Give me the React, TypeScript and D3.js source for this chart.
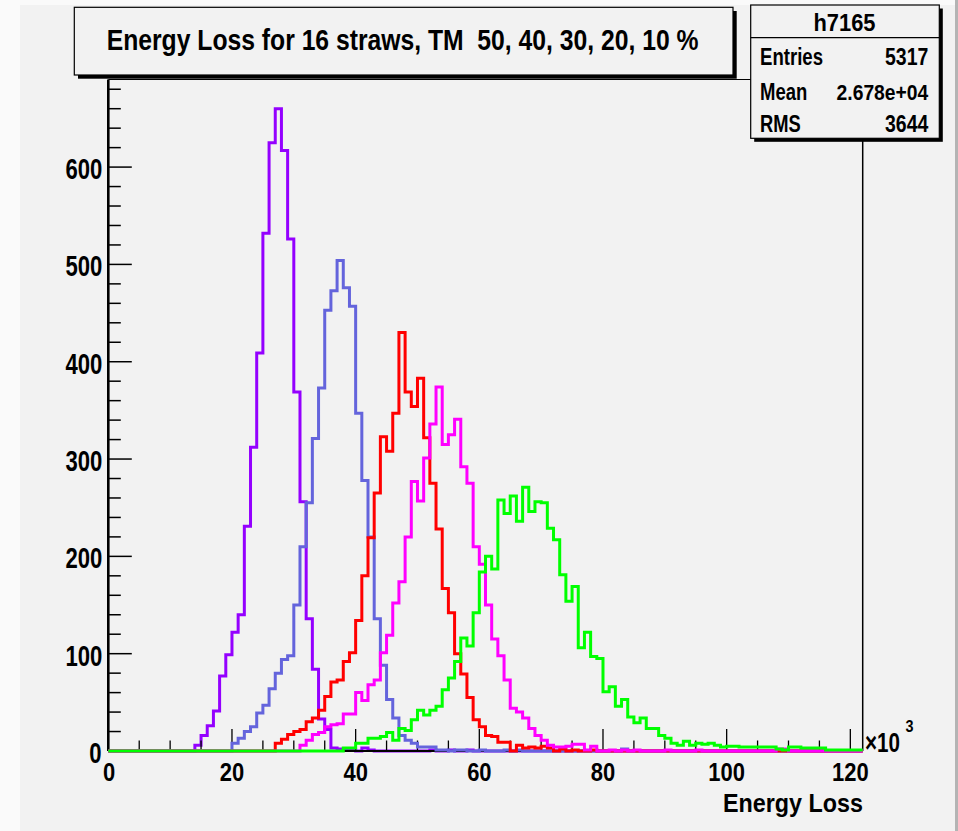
import React, { useLayoutEffect, useRef, useState } from 'react';
import * as d3 from 'd3';

// ---- data (counts per 1×10³ bin, starting at the given bin index) ----
const BIN_COUNT = 122;
const X_MAX = 122;
const Y_MAX = 690;

const purpleStart = 14;
const purpleCounts = [6, 16, 26, 41, 77, 99, 122, 140, 231, 312, 409, 532, 625, 660, 617, 526, 369, 256, 136, 84, 33, 22, 3, 2, 2, 1, 0, 3, 1, 0, 0, 0, 0, 0, 0, 0, 0, 0, 1, 0, 0, 1, 0, 0, 1];

const blueStart = 20;
const blueCounts = [8, 13, 20, 25, 39, 47, 64, 80, 94, 98, 150, 210, 255, 321, 373, 453, 473, 504, 476, 457, 347, 278, 220, 136, 88, 53, 34, 16, 11, 8, 4, 4, 4, 1, 1, 0, 1, 1, 0, 0, 1, 0, 0, 0, 1, 0, 1, 0, 0, 0, 0, 0, 0, 0, 0, 0, 0, 0, 0, 0, 0, 0, 0, 2];

const redStart = 27;
const redCounts = [8, 12, 17, 20, 22, 30, 34, 42, 56, 71, 73, 92, 101, 134, 180, 219, 265, 323, 308, 347, 430, 369, 354, 383, 322, 275, 228, 167, 142, 100, 79, 55, 32, 25, 16, 15, 9, 9, 0, 6, 3, 4, 3, 5, 3, 0, 2, 0, 1, 0, 0, 1];

const magentaStart = 31;
const magentaCounts = [6, 11, 17, 19, 25, 27, 28, 38, 38, 60, 52, 68, 73, 101, 119, 152, 174, 220, 277, 257, 301, 336, 374, 315, 325, 341, 292, 275, 210, 192, 150, 115, 98, 73, 44, 40, 34, 23, 16, 11, 6, 4, 4, 5, 7, 7, 1, 5, 0, 0, 1, 0, 1, 0, 1, 0, 0, 0, 0, 1, 0, 0, 0, 0, 1, 0, 0, 0, 0, 0, 0, 0, 0, 0, 0, 0, 0, 2, 2];

const greenStart = 38;
const greenCounts = [3, 3, 8, 8, 13, 13, 15, 19, 11, 23, 21, 32, 42, 37, 42, 46, 63, 75, 92, 116, 108, 142, 184, 200, 187, 258, 244, 262, 236, 271, 246, 256, 255, 229, 217, 181, 154, 169, 106, 122, 97, 95, 61, 66, 46, 53, 35, 29, 34, 23, 23, 16, 13, 8, 6, 10, 6, 8, 7, 8, 6, 4, 5, 5, 4, 4, 4, 4, 4, 4, 2, 1, 4, 4, 3, 3, 3, 3, 1, 1, 1, 1, 1, 1];

const xMajorTicks = [0, 20, 40, 60, 80, 100, 120];
const xTickLabels = ['0', '20', '40', '60', '80', '100', '120'];
const yMajorTicks = [0, 100, 200, 300, 400, 500, 600];
const yTickLabels = ['0', '100', '200', '300', '400', '500', '600'];
const X_MINOR_STEP = 5;
const Y_MINOR_STEP = 20;

const titleText = 'Energy Loss for 16 straws, TM  50, 40, 30, 20, 10 %';
const xAxisTitle = 'Energy Loss';
const statsName = 'h7165';
const statsLabels = ['Entries', 'Mean', 'RMS'];
const statsValues = ['5317', '2.678e+04', '3644'];

// ---- layout ----
const W = 958;
const H = 831;
const plot = { left: 108.3, right: 862.7, top: 79.5, bottom: 751 };
const FONT = "'Liberation Sans', Arial, Helvetica, sans-serif";
const BG = '#f2f2f2';

const x = d3.scaleLinear().domain([0, X_MAX]).range([plot.left, plot.right]);
const y = d3.scaleLinear().domain([0, Y_MAX]).range([plot.bottom, plot.top]);

function fullBins(start: number, counts: number[]): number[] {
  const a = new Array(BIN_COUNT).fill(0);
  counts.forEach((c, i) => {
    if (start + i < BIN_COUNT) a[start + i] = c;
  });
  return a;
}

function stepPath(arr: number[]): string {
  const pts: [number, number][] = arr.map((c, i) => [i, c]);
  pts.push([BIN_COUNT, arr[BIN_COUNT - 1]]);
  return (
    d3
      .line<[number, number]>()
      .x((d) => x(d[0]))
      .y((d) => y(d[1]))
      .curve(d3.curveStepAfter)(pts) || ''
  );
}

const series = [
  { key: 'purple', color: '#9400ff', data: fullBins(purpleStart, purpleCounts) },
  { key: 'blue', color: '#6464dc', data: fullBins(blueStart, blueCounts) },
  { key: 'red', color: '#ff0000', data: fullBins(redStart, redCounts) },
  { key: 'magenta', color: '#ff00ff', data: fullBins(magentaStart, magentaCounts) },
  { key: 'green', color: '#00ff00', data: fullBins(greenStart, greenCounts) },
];

// Text squeezed horizontally to a target width (condensed look of the reference)
function FitText({
  x: tx,
  y: ty,
  width,
  size,
  anchor = 'start',
  children,
}: {
  x: number;
  y: number;
  width: number;
  size: number;
  anchor?: 'start' | 'middle' | 'end';
  children: string;
}) {
  const ref = useRef<SVGTextElement>(null);
  const [sx, setSx] = useState(0.8);
  useLayoutEffect(() => {
    if (ref.current) {
      const natural = ref.current.getComputedTextLength();
      if (natural > 0) setSx(width / natural);
    }
  }, [width, children, size]);
  return (
    <text
      ref={ref}
      transform={`translate(${tx},${ty}) scale(${sx},1)`}
      x={0}
      y={0}
      fontSize={size}
      textAnchor={anchor}
      fontFamily={FONT}
      fontWeight="bold"
      fill="#000"
      style={{ whiteSpace: 'pre' }}
      xmlSpace="preserve"
    >
      {children}
    </text>
  );
}

function Hist({ s }: { s: { key: string; color: string; data: number[] } }) {
  return (
    <path
      d={stepPath(s.data)}
      fill="none"
      stroke={s.color}
      strokeWidth={3}
      strokeLinejoin="miter"
      strokeLinecap="butt"
    />
  );
}

function Axes() {
  const xMinor = d3.range(0, X_MAX + 0.001, X_MINOR_STEP).filter((v) => v % 20 !== 0);
  const yMinor = d3.range(0, Y_MAX, Y_MINOR_STEP).filter((v) => v % 100 !== 0);
  return (
    <g>
      <line x1={plot.left} x2={plot.right} y1={plot.top} y2={plot.top} stroke="#000" strokeWidth={1.2} />
      <line x1={plot.right} x2={plot.right} y1={plot.top} y2={plot.bottom} stroke="#000" strokeWidth={1.5} />
      <line x1={plot.left} x2={plot.right} y1={plot.bottom} y2={plot.bottom} stroke="#000" strokeWidth={2} />
      {xMajorTicks.map((v) => (
        <line key={'xM' + v} x1={x(v)} x2={x(v)} y1={plot.bottom} y2={plot.bottom - 22} stroke="#000" strokeWidth={1.3} />
      ))}
      {xMinor.map((v) => (
        <line key={'xm' + v} x1={x(v)} x2={x(v)} y1={plot.bottom} y2={plot.bottom - 10.5} stroke="#000" strokeWidth={1.3} />
      ))}
      <line x1={plot.left} x2={plot.left} y1={plot.top} y2={plot.bottom} stroke="#000" strokeWidth={2.6} />
      {yMajorTicks.map((v) => (
        <line key={'yM' + v} x1={plot.left} x2={plot.left + 23.5} y1={y(v)} y2={y(v)} stroke="#000" strokeWidth={1.5} />
      ))}
      {yMinor.map((v) => (
        <line key={'ym' + v} x1={plot.left} x2={plot.left + 12.5} y1={y(v)} y2={y(v)} stroke="#000" strokeWidth={1.5} />
      ))}
    </g>
  );
}

function Labels() {
  return (
    <g>
      {yMajorTicks.map((v, i) => (
        <FitText
          key={'yl' + v}
          x={v === 0 ? 101.5 : 102.3}
          y={y(v) + 12}
          size={30}
          anchor="end"
          width={12.3 * yTickLabels[i].length}
        >
          {yTickLabels[i]}
        </FitText>
      ))}
      {xMajorTicks.map((v, i) => (
        <FitText
          key={'xl' + v}
          x={v === 0 ? x(v) + 0.8 : x(v)}
          y={780.5}
          size={26.5}
          anchor="middle"
          width={12.2 * xTickLabels[i].length}
        >
          {xTickLabels[i]}
        </FitText>
      ))}
      <FitText x={863} y={812} size={26} anchor="end" width={140}>
        {xAxisTitle}
      </FitText>
      <FitText x={865} y={752} size={28} width={35}>
        {'\u00d710'}
      </FitText>
      <FitText x={905.5} y={732} size={17} width={8}>
        3
      </FitText>
    </g>
  );
}

function TitleBox() {
  const bx = 74.3, by = 7.3, bw = 658.7, bh = 67.7, off = 3.7;
  return (
    <g>
      <rect x={bx + off} y={by + off} width={bw} height={bh} fill="#000" />
      <rect x={bx} y={by} width={bw} height={bh} fill={BG} stroke="#000" strokeWidth={1.2} />
      <FitText x={106.7} y={50} size={30} width={592}>
        {titleText}
      </FitText>
    </g>
  );
}

function StatsBox() {
  const bx = 750.7, by = 5, bw = 188.6, bh = 133.3, off = 3.5;
  const rowsY = [65, 100, 131.7];
  const labelLen = [63, 47.3, 40.7];
  const valueLen = [43.3, 91.7, 43.3];
  return (
    <g>
      <rect x={bx + off} y={by + off} width={bw} height={bh} fill="#000" />
      <rect x={bx} y={by} width={bw} height={bh} fill={BG} stroke="#000" strokeWidth={1.2} />
      <line x1={bx} x2={bx + bw} y1={37.7} y2={37.7} stroke="#000" strokeWidth={1.2} />
      <FitText x={844.5} y={30.7} size={24} anchor="middle" width={62}>
        {statsName}
      </FitText>
      {statsLabels.map((l, i) => (
        <g key={l}>
          <FitText x={760} y={rowsY[i]} size={23} width={labelLen[i]}>
            {l}
          </FitText>
          <FitText x={928.3} y={rowsY[i]} size={23} anchor="end" width={valueLen[i]}>
            {statsValues[i]}
          </FitText>
        </g>
      ))}
    </g>
  );
}

export default function App() {
  const [first, ...rest] = series;
  return (
    <svg
      width={W}
      height={H}
      viewBox={`0 0 ${W} ${H}`}
      style={{ position: 'absolute', left: 0, top: 0, display: 'block' }}
    >
      <rect x={0} y={0} width={W} height={H} fill="#fafafa" />
      <rect x={20} y={5} width={935} height={H - 5} fill={BG} />
      <rect x={955} y={0} width={3} height={H} fill="#b4b4b4" />
      <Hist s={first} />
      <Axes />
      {rest.map((s) => (
        <Hist key={s.key} s={s} />
      ))}
      <TitleBox />
      <StatsBox />
      <Labels />
    </svg>
  );
}
